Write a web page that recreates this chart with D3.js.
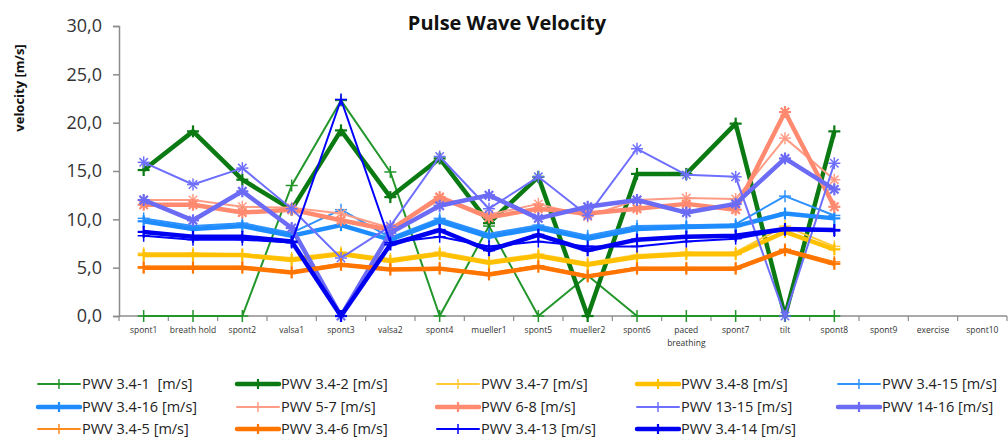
<!DOCTYPE html>
<html><head><meta charset="utf-8">
<script src="https://cdn.jsdelivr.net/npm/d3@7/dist/d3.min.js"></script>
<style>
html,body{margin:0;padding:0;background:#fff;}
svg{display:block;font-family:"Open Sans",Lato,sans-serif;}
text{white-space:pre;}
</style></head>
<body><svg id="c" width="1008" height="439"></svg>
<script>
const categories = ["spont1","breath hold","spont2","valsa1","spont3","valsa2","spont4","mueller1","spont5","mueller2","spont6","paced breathing","spont7","tilt","spont8","spont9","exercise","spont10"];
const yTicks = [0,5,10,15,20,25,30];

const pwv34_1  = [0,0,0,13.5,22.3,14.9,0,9.3,0,4.2,0,0,0,0,0];
const pwv34_2  = [15.1,19.1,14.1,11.0,19.2,12.3,16.3,9.6,14.4,0,14.7,14.7,19.9,0,19.1];
const pwv34_7  = [6.5,6.5,6.4,6.0,6.6,5.9,6.6,5.7,6.4,5.5,6.3,6.6,6.6,9.3,7.2];
const pwv34_8  = [6.3,6.3,6.3,5.8,6.4,5.7,6.4,5.5,6.2,5.3,6.1,6.4,6.4,8.7,6.9];
const pwv34_15 = [10.1,9.3,9.6,8.6,11.0,8.1,10.1,8.5,9.4,8.3,9.3,9.4,9.5,12.4,10.4];
const pwv34_16 = [9.8,9.0,9.3,8.3,9.4,7.9,9.8,8.2,9.1,8.0,9.0,9.2,9.3,10.6,10.1];
const pwv5_7   = [12.0,12.0,11.3,11.2,10.6,9.1,12.0,10.5,11.6,10.3,12.0,12.2,12.1,18.4,14.1];
const pwv6_8   = [11.5,11.5,10.7,11.0,9.9,8.9,12.3,10.2,11.1,10.6,11.1,11.6,11.0,21.1,11.3];
const pwv13_15 = [15.9,13.6,15.3,11.1,6.0,9.3,16.5,11.1,14.4,10.4,17.3,14.6,14.4,0,15.8];
const pwv14_16 = [12.0,9.9,12.9,9.1,0,8.6,11.4,12.5,10.1,11.3,12.0,10.7,11.6,16.3,13.1];
const pwv34_5  = [5.1,5.1,5.1,4.6,5.4,4.9,5.0,4.4,5.2,4.2,5.0,5.0,5.0,6.9,5.6];
const pwv34_6  = [5.0,5.0,5.0,4.5,5.3,4.8,4.9,4.3,5.1,4.1,4.9,4.9,4.9,6.8,5.4];
const pwv34_13 = [8.3,7.9,7.9,7.6,22.4,7.6,8.2,7.2,7.7,7.2,7.2,7.7,8.0,8.9,8.8];
const pwv34_14 = [8.7,8.2,8.2,7.7,0,7.4,8.9,6.8,8.4,6.8,7.9,8.2,8.3,9.0,8.9];

const seriesNames = ["PWV 3.4-1  [m/s]","PWV 3.4-2 [m/s]","PWV 3.4-7 [m/s]","PWV 3.4-8 [m/s]","PWV 3.4-15 [m/s]",
  "PWV 3.4-16 [m/s]","PWV 5-7 [m/s]","PWV 6-8 [m/s]","PWV 13-15 [m/s]","PWV 14-16 [m/s]",
  "PWV 3.4-5 [m/s]","PWV 3.4-6 [m/s]","PWV 3.4-13 [m/s]","PWV 3.4-14 [m/s]"];
const seriesValues = [pwv34_1,pwv34_2,pwv34_7,pwv34_8,pwv34_15,pwv34_16,pwv5_7,pwv6_8,pwv13_15,pwv14_16,pwv34_5,pwv34_6,pwv34_13,pwv34_14];
const seriesColors = ["#22962a","#0b7a12","#ffca3a","#ffc000","#2f93ff","#1e8cff","#ff9c86","#ff8a70","#6f6fff","#6b6bf5","#ff8a1e","#ff7500","#0000ff","#0000f0"];
const seriesThick  = [false,true,false,true,false,true,false,true,false,true,false,true,false,true];
const seriesStar   = [false,false,false,false,false,false,true,true,true,true,false,false,false,false];

const svg = d3.select("#c");
const x = d3.scaleBand().domain(categories).range([119,1007]);
const y = d3.scaleLinear().domain([0,30]).range([316,26]);
const axisColor = "#8c8c8c";

// title
svg.append("text").attr("x",507).attr("y",30).attr("text-anchor","middle")
  .attr("font-size",20).attr("font-weight","bold").attr("fill","#111").text("Pulse Wave Velocity");
// y label
svg.append("text").attr("transform","translate(24,88) rotate(-90)").attr("text-anchor","middle")
  .attr("font-size",13).attr("font-weight","bold").attr("fill","#111").text("velocity [m/s]");

// y axis
const yAxis = svg.append("g").attr("transform","translate(119,0)")
  .call(d3.axisLeft(y).tickValues(yTicks).tickSize(6).tickFormat(d => d3.format(".1f")(d).replace(".",",")));
yAxis.select(".domain").attr("stroke",axisColor).attr("stroke-width",1.5);
yAxis.selectAll(".tick line").attr("stroke",axisColor).attr("stroke-width",1.5);
yAxis.selectAll(".tick text").attr("font-size",18).attr("fill","#333").attr("x",-17).attr("font-family","'Open Sans',sans-serif");

// x axis
const xg = svg.append("g").attr("transform","translate(0,316)");
xg.append("line").attr("x1",119).attr("x2",1007).attr("stroke",axisColor).attr("stroke-width",1.5);
const edges = categories.map(c => x(c)).concat([x.range()[1]]);
xg.selectAll("line.tk").data(edges).enter().append("line").attr("class","tk")
  .attr("x1",d=>d).attr("x2",d=>d).attr("y1",0).attr("y2",5).attr("stroke",axisColor).attr("stroke-width",1.2);
const xl = xg.selectAll("text.lab").data(categories).enter().append("text").attr("class","lab")
  .attr("x",d=>x(d)+x.bandwidth()/2).attr("y",17).attr("text-anchor","middle")
  .attr("font-size",8.5).attr("fill","#333");
xl.each(function(d){
  const t = d3.select(this);
  if (d === "paced breathing") {
    t.append("tspan").attr("x",x(d)+x.bandwidth()/2).attr("dy",0).text("paced");
    t.append("tspan").attr("x",x(d)+x.bandwidth()/2).attr("dy",12.5).text("breathing");
  } else t.text(d);
});

// lines
const cx = i => x(categories[i]) + x.bandwidth()/2;
const line = d3.line().x((d,i)=>cx(i)).y(d=>y(d)).defined(d=>d!=null);
function marker(g, px, py, color, thick, star, s) {
  const w = thick ? 2.2 : 1.5;
  g.append("line").attr("x1",px-s).attr("x2",px+s).attr("y1",py).attr("y2",py).attr("stroke",color).attr("stroke-width",w);
  g.append("line").attr("x1",px).attr("x2",px).attr("y1",py-s).attr("y2",py+s).attr("stroke",color).attr("stroke-width",w);
  if (star) {
    const d = s*0.7;
    g.append("line").attr("x1",px-d).attr("x2",px+d).attr("y1",py-d).attr("y2",py+d).attr("stroke",color).attr("stroke-width",w);
    g.append("line").attr("x1",px-d).attr("x2",px+d).attr("y1",py+d).attr("y2",py-d).attr("stroke",color).attr("stroke-width",w);
  }
}
const plot = svg.append("g");
seriesValues.forEach((vals,si) => {
  const g = plot.append("g");
  g.append("path").datum(vals).attr("d",line).attr("fill","none")
    .attr("stroke",seriesColors[si]).attr("stroke-width",seriesThick[si]?4.5:2)
    .attr("stroke-linejoin","round");
  vals.forEach((v,i) => { if (v!=null) marker(g, cx(i), y(v), seriesColors[si], seriesThick[si], seriesStar[si], 6); });
});

// legend
const colX = [38,237,437,637,838];
const rowY = [384,407,429];
const lg = svg.append("g");
seriesNames.forEach((n,i) => {
  const cxl = colX[i%5], ry = rowY[Math.floor(i/5)];
  const g = lg.append("g");
  g.append("line").attr("x1",cxl).attr("x2",cxl+42).attr("y1",ry).attr("y2",ry)
    .attr("stroke",seriesColors[i]).attr("stroke-width",seriesThick[i]?4.5:2).attr("stroke-linecap","round");
  g.append("line").attr("x1",cxl+21).attr("x2",cxl+21).attr("y1",ry-5).attr("y2",ry+5)
    .attr("stroke",seriesColors[i]).attr("stroke-width",seriesThick[i]?2.2:1.5);
  g.append("text").attr("x",cxl+44).attr("y",ry+5).attr("font-size",14.5).attr("fill","#222").text(n);
});
</script></body></html>
